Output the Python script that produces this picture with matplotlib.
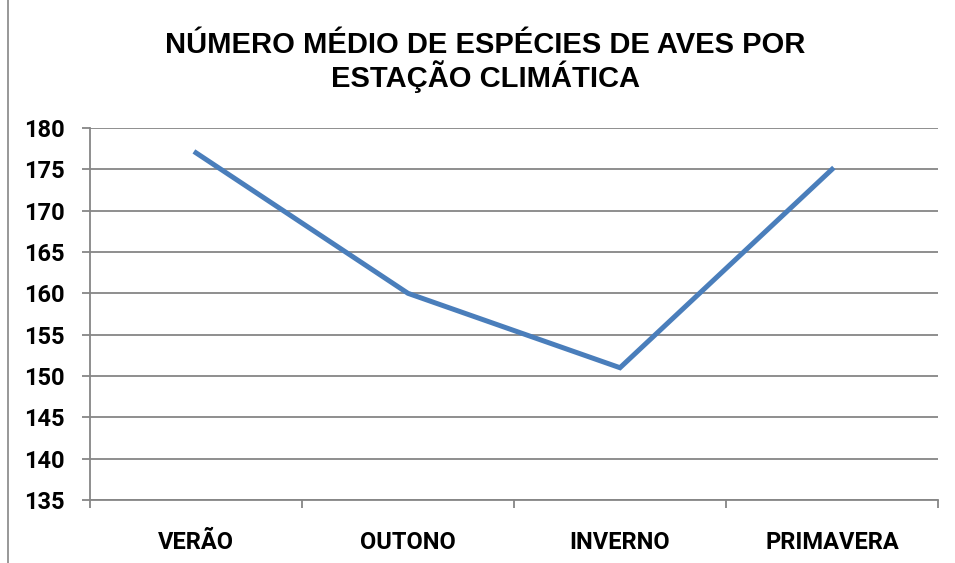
import matplotlib.pyplot as plt
import numpy as np

estacoes = ["VERÃO", "OUTONO", "INVERNO", "PRIMAVERA"]
especies = [177, 160, 151, 175]
y_ticks = [135, 140, 145, 150, 155, 160, 165, 170, 175, 180]

grid_color = "#868686"
line_color = "#4A7EBB"
tick_font = dict(fontfamily="Roboto", fontweight="bold", fontsize=17)

fig = plt.figure(figsize=(9.55, 5.63), dpi=100)
ax = fig.add_axes([90 / 955, 1 - 500 / 563, 848 / 955, 372 / 563])

x = np.arange(len(estacoes))
ax.plot(x, especies, color=line_color, lw=3.6, solid_joinstyle="miter", zorder=3)

ax.set_xlim(-0.5, len(estacoes) - 0.5)
ax.set_ylim(y_ticks[0], y_ticks[-1])
ax.set_yticks(y_ticks)
ax.set_yticklabels([str(v) for v in y_ticks], **tick_font)
ax.yaxis.grid(True, color=grid_color, lw=1.3)
ax.set_axisbelow(True)

# category ticks sit on the boundaries, labels centred in between
ax.set_xticks(np.arange(-0.5, len(estacoes), 1.0))
ax.set_xticklabels([])
ax.set_xticks(x, minor=True)
ax.set_xticklabels(estacoes, minor=True, **tick_font)
ax.tick_params(axis="x", which="minor", length=0, pad=22)
ax.tick_params(axis="x", which="major", length=6, width=1.3, color=grid_color, direction="out")
ax.tick_params(axis="y", length=6, width=1.3, color=grid_color, pad=12)

for side in ["top", "right"]:
    ax.spines[side].set_visible(False)
for side in ["left", "bottom"]:
    ax.spines[side].set_color(grid_color)
    ax.spines[side].set_linewidth(1.3)

fig.text(485 / 955, 1 - 62 / 563, "NÚMERO MÉDIO DE ESPÉCIES DE AVES POR\nESTAÇÃO CLIMÁTICA",
         ha="center", va="center", fontfamily="Liberation Sans", fontweight="bold",
         fontsize=21, linespacing=1.05)

# chart frame edge on the left
fig.add_artist(plt.Line2D([8 / 955, 8 / 955], [0, 1], color=grid_color, lw=1.2))

fig.savefig("out.png", dpi=100)
